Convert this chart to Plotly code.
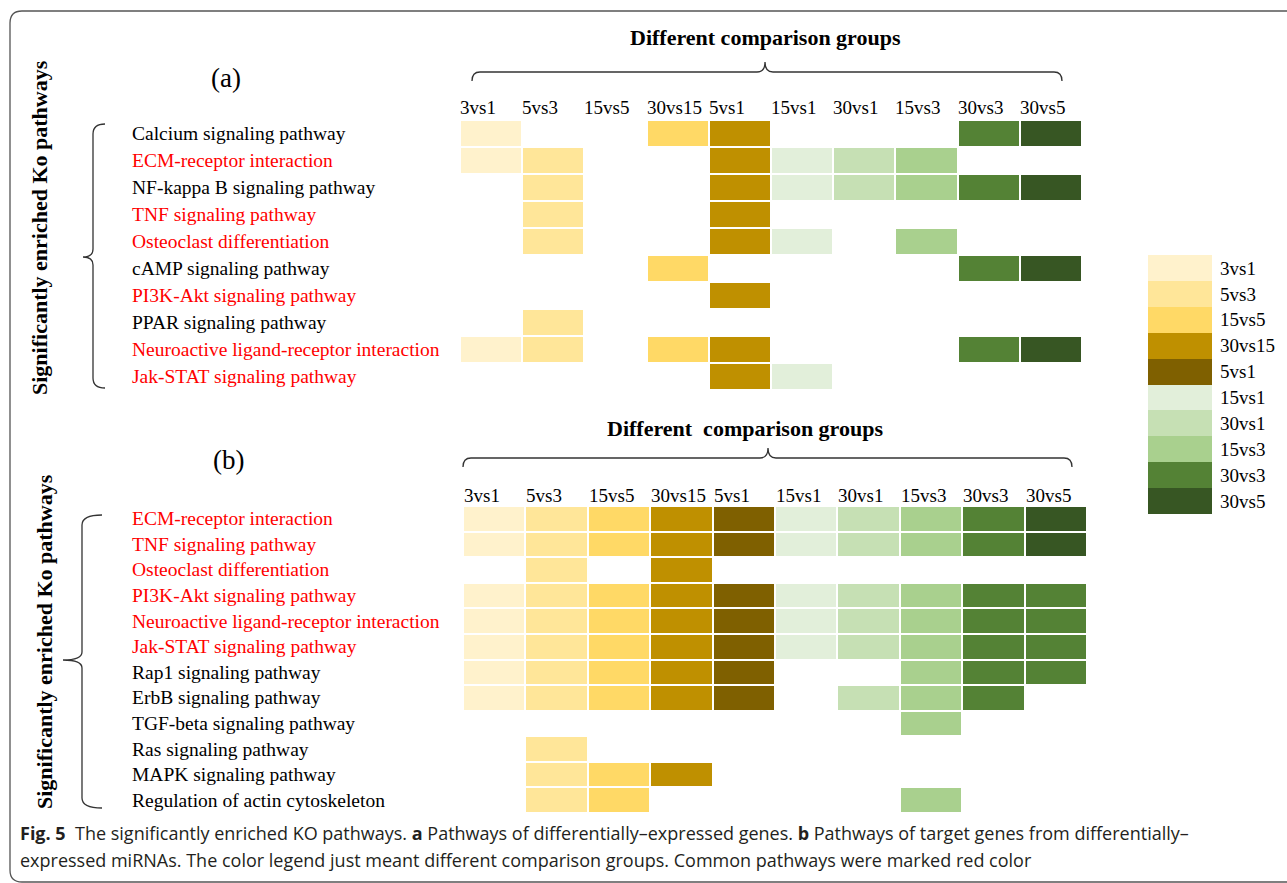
import plotly.graph_objects as go

W, H = 1287, 883

# comparison groups (columns) and their legend colours
groups = ["3vs1", "5vs3", "15vs5", "30vs15", "5vs1", "15vs1", "30vs1", "15vs3", "30vs3", "30vs5"]
group_colors = ["#FFF2CC", "#FFE699", "#FFD966", "#BF9000", "#7F6000",
                "#E2EFDA", "#C6E0B4", "#A9D08E", "#548235", "#375623"]

# (a) pathways of differentially-expressed genes
pathways_a = [
    "Calcium signaling pathway",
    "ECM-receptor interaction",
    "NF-kappa B signaling pathway",
    "TNF signaling pathway",
    "Osteoclast differentiation",
    "cAMP signaling pathway",
    "PI3K-Akt signaling pathway",
    "PPAR signaling pathway",
    "Neuroactive ligand-receptor interaction",
    "Jak-STAT signaling pathway",
]
# colour level per cell (1..10 = legend entry, 0 = not enriched)
levels_a = [
    [1, 0, 0, 3, 4, 0, 0, 0, 9, 10],
    [1, 2, 0, 0, 4, 6, 7, 8, 0, 0],
    [0, 2, 0, 0, 4, 6, 7, 8, 9, 10],
    [0, 2, 0, 0, 4, 0, 0, 0, 0, 0],
    [0, 2, 0, 0, 4, 6, 0, 8, 0, 0],
    [0, 0, 0, 3, 0, 0, 0, 0, 9, 10],
    [0, 0, 0, 0, 4, 0, 0, 0, 0, 0],
    [0, 2, 0, 0, 0, 0, 0, 0, 0, 0],
    [1, 2, 0, 3, 4, 0, 0, 0, 9, 10],
    [0, 0, 0, 0, 4, 6, 0, 0, 0, 0],
]

# (b) pathways of target genes from differentially-expressed miRNAs
pathways_b = [
    "ECM-receptor interaction",
    "TNF signaling pathway",
    "Osteoclast differentiation",
    "PI3K-Akt signaling pathway",
    "Neuroactive ligand-receptor interaction",
    "Jak-STAT signaling pathway",
    "Rap1 signaling pathway",
    "ErbB signaling pathway",
    "TGF-beta signaling pathway",
    "Ras signaling pathway",
    "MAPK signaling pathway",
    "Regulation of actin cytoskeleton",
]
levels_b = [
    [1, 2, 3, 4, 5, 6, 7, 8, 9, 10],
    [1, 2, 3, 4, 5, 6, 7, 8, 9, 10],
    [0, 2, 0, 4, 0, 0, 0, 0, 0, 0],
    [1, 2, 3, 4, 5, 6, 7, 8, 9, 9],
    [1, 2, 3, 4, 5, 6, 7, 8, 9, 9],
    [1, 2, 3, 4, 5, 6, 7, 8, 9, 9],
    [1, 2, 3, 4, 5, 0, 0, 8, 9, 9],
    [1, 2, 3, 4, 5, 0, 7, 8, 9, 0],
    [0, 0, 0, 0, 0, 0, 0, 8, 0, 0],
    [0, 2, 0, 0, 0, 0, 0, 0, 0, 0],
    [0, 2, 3, 4, 0, 0, 0, 0, 0, 0],
    [0, 2, 3, 0, 0, 0, 0, 8, 0, 0],
]

caption_line1 = ("<b>Fig. 5</b>  The significantly enriched KO pathways. <b>a</b> Pathways of "
                 "differentially\u2013expressed genes. <b>b</b> Pathways of target genes from differentially\u2013")
caption_line2 = ("expressed miRNAs. The color legend just meant different comparison groups. "
                 "Common pathways were marked red color")

SERIF = "Liberation Serif, Times New Roman, serif"
SANS = "Open Sans, Noto Sans, sans-serif"
common = set(pathways_a) & set(pathways_b)


def px(x):
    return x / W


def py(y):
    return 1 - y / H


def pt(x, y):
    return f"{px(x):.5f},{py(y):.5f}"


def path(cmds):
    out = []
    for c in cmds:
        if isinstance(c, str):
            out.append(c)
        else:
            out.append(pt(*c))
    return " ".join(out)


# discrete colour scale: level k sits in the middle of its own band
colorscale = []
for k, c in enumerate(group_colors):
    colorscale.append([k / len(group_colors), c])
    colorscale.append([(k + 1) / len(group_colors), c])


def grid(levels):
    return [[v if v else None for v in row] for row in levels]


fig = go.Figure()

fig.add_trace(go.Heatmap(
    z=grid(levels_a), x=list(range(len(groups))), y=list(range(len(pathways_a))),
    colorscale=colorscale, zmin=0.5, zmax=len(groups) + 0.5, showscale=False,
    xgap=2, ygap=2, hoverinfo="skip", xaxis="x", yaxis="y"))

fig.add_trace(go.Heatmap(
    z=grid(levels_b), x=list(range(len(groups))), y=list(range(len(pathways_b))),
    colorscale=colorscale, zmin=0.5, zmax=len(groups) + 0.5, showscale=False,
    xgap=2, ygap=2, hoverinfo="skip", xaxis="x2", yaxis="y2"))

# colour key drawn as a single-column heatmap
fig.add_trace(go.Heatmap(
    z=[[i + 1] for i in range(len(groups))], x=[0], y=list(range(len(groups))),
    colorscale=colorscale, zmin=0.5, zmax=len(groups) + 0.5, showscale=False,
    hoverinfo="skip", xaxis="x3", yaxis="y3"))

hidden = dict(showgrid=False, zeroline=False, showticklabels=False, ticks="", showline=False)

fig.update_layout(
    width=W, height=H,
    margin=dict(l=0, r=0, t=0, b=0),
    paper_bgcolor="white", plot_bgcolor="white",
    showlegend=False,
    xaxis=dict(domain=[px(460), px(1082)], range=[-0.5, len(groups) - 0.5], anchor="y", **hidden),
    yaxis=dict(domain=[py(390), py(120)], range=[len(pathways_a) - 0.5, -0.5], anchor="x", **hidden),
    xaxis2=dict(domain=[px(463), px(1087)], range=[-0.5, len(groups) - 0.5], anchor="y2", **hidden),
    yaxis2=dict(domain=[py(813), py(506)], range=[len(pathways_b) - 0.5, -0.5], anchor="x2", **hidden),
    xaxis3=dict(domain=[px(1148), px(1212)], range=[-0.5, 0.5], anchor="y3", **hidden),
    yaxis3=dict(domain=[py(514), py(255)], range=[len(groups) - 0.5, -0.5], anchor="x3",
                side="right", showgrid=False, zeroline=False, ticks="", showline=False,
                tickmode="array", tickvals=list(range(len(groups))), ticktext=groups,
                tickfont=dict(family=SERIF, size=19, color="black"), ticklabelstandoff=7),
)

ann = []

# pathway names
for i, name in enumerate(pathways_a):
    ann.append(dict(x=px(130), xref="paper", y=i, yref="y", text=name, showarrow=False,
                    xanchor="left", yanchor="middle",
                    font=dict(family=SERIF, size=19.5, color="#ff0000" if name in common else "black")))
for i, name in enumerate(pathways_b):
    ann.append(dict(x=px(130), xref="paper", y=i, yref="y2", text=name, showarrow=False,
                    xanchor="left", yanchor="middle",
                    font=dict(family=SERIF, size=19.5, color="#ff0000" if name in common else "black")))

# comparison-group headers over each column
for j, g in enumerate(groups):
    ann.append(dict(x=j - 0.5, xref="x", y=py(107), yref="paper", text=g, showarrow=False,
                    xanchor="left", yanchor="middle", xshift=-2,
                    font=dict(family=SERIF, size=19, color="black")))
    ann.append(dict(x=j - 0.5, xref="x2", y=py(495), yref="paper", text=g, showarrow=False,
                    xanchor="left", yanchor="middle", xshift=-1,
                    font=dict(family=SERIF, size=19, color="black")))

centered = dict(xref="paper", yref="paper", showarrow=False, xanchor="center", yanchor="middle")

# panel titles, tags and side titles
ann += [
    dict(x=px(765), y=py(38), text="<b>Different comparison groups</b>",
         font=dict(family=SERIF, size=22, color="black"), **centered),
    dict(x=px(745), y=py(428), text="<b>Different\u00a0 comparison groups</b>",
         font=dict(family=SERIF, size=22, color="black"), **centered),
    dict(x=px(226), y=py(78), text="(a)", font=dict(family=SERIF, size=27, color="black"), **centered),
    dict(x=px(229), y=py(460), text="(b)", font=dict(family=SERIF, size=27, color="black"), **centered),
    dict(x=px(40), y=py(228), text="<b>Significantly enriched Ko pathways</b>", textangle=-90,
         font=dict(family=SERIF, size=22, color="black"), **centered),
    dict(x=px(44), y=py(642), text="<b>Significantly enriched Ko pathways</b>", textangle=-90,
         font=dict(family=SERIF, size=22, color="black"), **centered),
    dict(x=px(18), y=py(833), xref="paper", yref="paper", text=caption_line1, showarrow=False,
         xanchor="left", yanchor="middle", font=dict(family=SANS, size=18, color="#231f20")),
    dict(x=px(18), y=py(860), xref="paper", yref="paper", text=caption_line2, showarrow=False,
         xanchor="left", yanchor="middle", font=dict(family=SANS, size=18, color="#231f20")),
]
fig.update_layout(annotations=ann)

brace = dict(type="path", xref="paper", yref="paper", line=dict(color="#333333", width=1.3))
shapes = [
    # horizontal braces above the column headers
    dict(path=path(["M", (472, 81), "Q", (472, 72), (480, 72), "L", (757, 72), "Q", (765, 72), (765, 62),
                    "Q", (765, 72), (773, 72), "L", (1054, 72), "Q", (1062, 72), (1062, 81)]), **brace),
    dict(path=path(["M", (463, 467), "Q", (463, 458), (471, 458), "L", (760, 458), "Q", (768, 458), (768, 448),
                    "Q", (768, 458), (776, 458), "L", (1064, 458), "Q", (1072, 458), (1072, 467)]), **brace),
    # vertical braces beside the pathway names
    dict(path=path(["M", (105, 124), "Q", (93, 124), (93, 134), "L", (93, 249), "Q", (93, 257), (83, 257),
                    "Q", (93, 257), (93, 265), "L", (93, 378), "Q", (93, 388), (105, 388)]), **brace),
    dict(path=path(["M", (102, 515), "Q", (82, 515), (82, 525), "L", (82, 652), "Q", (82, 660), (63, 660),
                    "Q", (82, 660), (82, 668), "L", (82, 798), "Q", (82, 808), (102, 808)]), **brace),
    # rounded frame round the figure
    dict(type="path", xref="paper", yref="paper", line=dict(color="#555555", width=1.3),
         path=path(["M", (1295, 11), "L", (22, 11), "Q", (10, 11), (10, 23), "L", (10, 870),
                    "Q", (10, 882), (22, 882), "L", (1295, 882)])),
]
fig.update_layout(shapes=shapes)

fig.write_html("out.html")
